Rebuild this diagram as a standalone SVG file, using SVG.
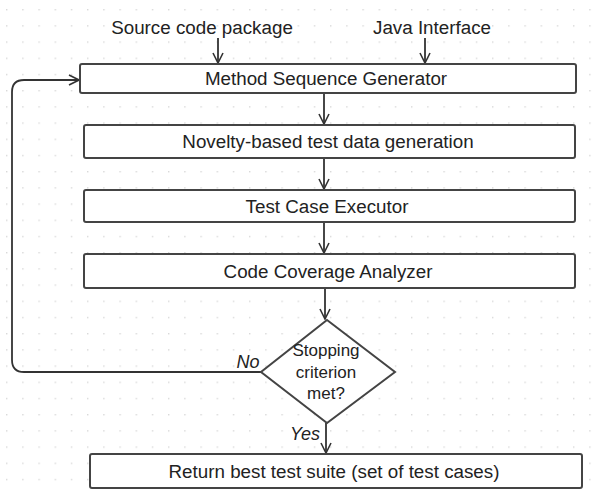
<svg xmlns="http://www.w3.org/2000/svg" width="600" height="494" viewBox="0 0 600 494">
<defs>
<pattern id="grid" x="6" y="9" width="16.2" height="16.2" patternUnits="userSpaceOnUse">
<rect x="0" y="0" width="1.4" height="1.4" fill="#d8d8d8"/>
</pattern>
<marker id="arr" viewBox="0 0 12 12" refX="11" refY="6" markerWidth="12" markerHeight="12" markerUnits="userSpaceOnUse" orient="auto">
<path d="M1,1 L11,6 L1,11" fill="none" stroke="#333" stroke-width="1.6"/>
</marker>
</defs>
<style>
.box{fill:#fff;stroke:#444;stroke-width:2}
.t{font-family:"Liberation Sans",Arial,sans-serif;font-size:18.8px;fill:#222;text-anchor:middle;dominant-baseline:central}
.d{font-size:17px}
.it{font-style:italic;font-size:18px}
.c{fill:none;stroke:#333;stroke-width:1.8}
</style>
<rect width="600" height="494" fill="#fff"/>
<rect width="600" height="494" fill="url(#grid)"/>
<g id="labels">
<text class="t" x="202" y="27">Source code package</text>
<text class="t" x="432" y="27">Java Interface</text>
</g>
<g id="connectors">
<line class="c" x1="218" y1="38" x2="218" y2="63" marker-end="url(#arr)"/>
<line class="c" x1="425" y1="38" x2="425" y2="63" marker-end="url(#arr)"/>
<line class="c" x1="324" y1="93" x2="324" y2="124" marker-end="url(#arr)"/>
<line class="c" x1="324" y1="158" x2="324" y2="189" marker-end="url(#arr)"/>
<line class="c" x1="324" y1="222" x2="324" y2="253" marker-end="url(#arr)"/>
<line class="c" x1="325" y1="288" x2="325" y2="319" marker-end="url(#arr)"/>
<line class="c" x1="326" y1="423" x2="326" y2="453" marker-end="url(#arr)"/>
<path class="c" d="M261,372 H24 Q12,372 12,360 V92 Q12,80 24,80 H79" marker-end="url(#arr)"/>
<text class="t it" x="248" y="362">No</text>
<text class="t it" x="305" y="434">Yes</text>
</g>
<g id="msg">
<rect class="box" x="80" y="64" width="496" height="29" rx="2"/>
<text class="t" x="326" y="78.5">Method Sequence Generator</text>
</g>
<g id="novelty">
<rect class="box" x="84" y="125" width="491" height="33" rx="2"/>
<text class="t" x="328" y="141.5">Novelty-based test data generation</text>
</g>
<g id="executor">
<rect class="box" x="84" y="190" width="491" height="32" rx="2"/>
<text class="t" x="327" y="206">Test Case Executor</text>
</g>
<g id="coverage">
<rect class="box" x="84" y="254" width="491" height="34" rx="2"/>
<text class="t" x="328" y="271">Code Coverage Analyzer</text>
</g>
<g id="decision">
<polygon class="box" points="327,320 395,372 327,423 261,372"/>
<text class="t d" x="326" y="350">Stopping</text>
<text class="t d" x="326" y="372">criterion</text>
<text class="t d" x="326" y="393">met?</text>
</g>
<g id="result">
<rect class="box" x="90" y="454" width="492" height="34" rx="2"/>
<text class="t" x="334" y="471">Return best test suite (set of test cases)</text>
</g>
</svg>
